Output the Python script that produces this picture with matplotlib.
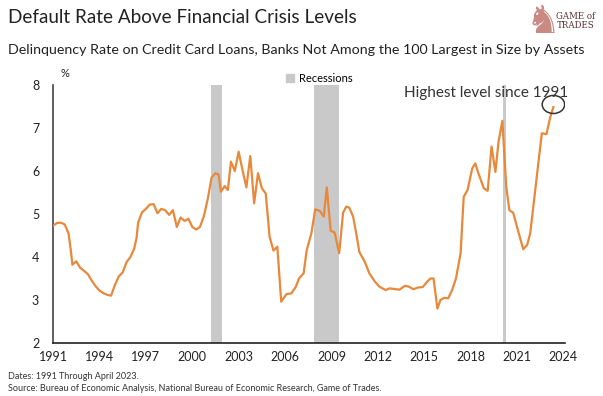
import matplotlib.pyplot as plt
from matplotlib.patches import Ellipse, Patch

plt.rcParams['font.family'] = ['Lato', 'DejaVu Sans']

# delinquency rate, % (year, value)
years = [1991.00, 1991.25, 1991.50, 1991.75, 1992.00, 1992.15, 1992.25, 1992.50, 1992.75,
         1993.00, 1993.25, 1993.50, 1993.75, 1994.00, 1994.25, 1994.50, 1994.75, 1995.00,
         1995.25, 1995.50, 1995.75, 1996.00, 1996.25, 1996.40, 1996.50, 1996.75, 1997.00,
         1997.25, 1997.50, 1997.75, 1998.00, 1998.25, 1998.50, 1998.75, 1999.00, 1999.25,
         1999.50, 1999.75, 2000.00, 2000.25, 2000.50, 2000.75, 2001.00, 2001.25, 2001.50,
         2001.70, 2001.85, 2002.10, 2002.30, 2002.50, 2002.75, 2003.00, 2003.25, 2003.50,
         2003.75, 2004.00, 2004.25, 2004.50, 2004.75, 2005.00, 2005.25, 2005.50, 2005.75,
         2006.10, 2006.40, 2006.70, 2006.90, 2007.20, 2007.40, 2007.70, 2007.95, 2008.25,
         2008.50, 2008.70, 2008.95, 2009.20, 2009.50, 2009.75, 2009.95, 2010.15, 2010.40,
         2010.60, 2010.80, 2011.15, 2011.45, 2011.80, 2012.10, 2012.50, 2012.75, 2013.15,
         2013.40, 2013.75, 2014.00, 2014.30, 2014.60, 2014.90, 2015.20, 2015.40, 2015.60,
         2015.85, 2016.05, 2016.30, 2016.55, 2016.80, 2017.05, 2017.35, 2017.55, 2017.80,
         2018.10, 2018.30, 2018.50, 2018.85, 2019.10, 2019.35, 2019.60, 2019.80, 2020.05,
         2020.30, 2020.50, 2020.75, 2021.05, 2021.40, 2021.65, 2021.85, 2022.05, 2022.35,
         2022.60, 2022.90, 2023.15, 2023.35]
rate = [4.73, 4.79, 4.80, 4.76, 4.55, 4.15, 3.82, 3.90, 3.75,
        3.68, 3.60, 3.45, 3.32, 3.22, 3.16, 3.12, 3.10, 3.35,
        3.55, 3.64, 3.88, 4.00, 4.20, 4.45, 4.80, 5.04, 5.12,
        5.22, 5.23, 5.02, 5.12, 5.09, 4.98, 5.09, 4.70, 4.92,
        4.84, 4.89, 4.70, 4.64, 4.70, 4.95, 5.35, 5.85, 5.95,
        5.92, 5.52, 5.65, 5.56, 6.22, 6.00, 6.45, 6.02, 5.62,
        6.35, 5.25, 5.95, 5.60, 5.48, 4.47, 4.15, 4.24, 2.96,
        3.14, 3.15, 3.31, 3.50, 3.62, 4.16, 4.55, 5.11, 5.07,
        4.94, 5.62, 4.61, 4.57, 4.09, 5.03, 5.17, 5.15, 4.94,
        4.55, 4.12, 3.89, 3.62, 3.43, 3.31, 3.23, 3.27, 3.25,
        3.24, 3.33, 3.31, 3.25, 3.29, 3.30, 3.43, 3.50, 3.50,
        2.80, 3.00, 3.05, 3.04, 3.23, 3.50, 4.09, 5.40, 5.56,
        6.06, 6.18, 5.95, 5.60, 5.54, 6.57, 5.98, 6.68, 7.17,
        5.64, 5.09, 5.03, 4.63, 4.18, 4.28, 4.55, 5.17, 6.10,
        6.88, 6.86, 7.26, 7.49]

recessions = [(2001.2, 2001.9), (2007.9, 2009.5), (2020.1, 2020.3)]
xticks = [1991, 1994, 1997, 2000, 2003, 2006, 2009, 2012, 2015, 2018, 2021, 2024]
yticks = [2, 3, 4, 5, 6, 7, 8]

fig = plt.figure(figsize=(6.03, 3.96), dpi=100)
ax = fig.add_axes([0.088, 0.134, 0.849, 0.651])

for start, end in recessions:
    ax.axvspan(start, end, color='#c9c9c9', lw=0, zorder=1)
ax.plot(years, rate, color='#e8883a', lw=1.6, zorder=3)

ax.set_xlim(1991, 2024.1)
ax.set_ylim(2, 8)
ax.set_xticks(xticks)
ax.set_yticks(yticks)
ax.tick_params(length=0, labelsize=9, colors='#222222', pad=6)
ax.tick_params(axis='y', pad=10)
for s in ['top', 'right']:
    ax.spines[s].set_visible(False)
ax.spines['left'].set_color('#444444')
ax.spines['bottom'].set_color('#222222')
ax.spines['left'].set_linewidth(1.2)
ax.spines['bottom'].set_linewidth(1.2)

# highlight last point
ax.add_patch(Ellipse((years[-1] + 0.0, rate[-1] + 0.06), 1.45, 0.42, fill=False,
                     ec='#333333', lw=1.1, zorder=4))
ax.text(2024.3, 7.97, 'Highest level since 1991', ha='right', va='top',
        fontsize=11, color='#333333')

ax.legend(handles=[Patch(color='#c9c9c9', label='Recessions')], loc='upper center',
          bbox_to_anchor=(0.52, 1.085), frameon=False, fontsize=8,
          handlelength=0.7, handleheight=0.7, handletextpad=0.4)

fig.text(0.1, 0.805, '%', fontsize=8, color='#222222')
fig.text(0.013, 0.955, 'Default Rate Above Financial Crisis Levels', fontsize=13.6,
         color='#222222', va='center')
fig.text(0.013, 0.873, 'Delinquency Rate on Credit Card Loans, Banks Not Among the 100 '
         'Largest in Size by Assets', fontsize=10.3, color='#222222', va='center')
fig.text(0.013, 0.048, 'Dates: 1991 Through April 2023.', fontsize=6.5, color='#333333',
         va='center')
fig.text(0.013, 0.018, 'Source: Bureau of Economic Analysis, National Bureau of Economic '
         'Research, Game of Trades.', fontsize=6.5, color='#333333', va='center')

# logo
fig.text(0.9, 0.945, '\u265e', fontsize=28, color='#c98a84', ha='center', va='center')
fig.text(0.955, 0.947, 'GAME of\nTRADES', fontsize=6.2, family='DejaVu Serif',
         color='#5a3030', ha='center', va='center', linespacing=1.0)

fig.savefig('out.png', dpi=100)
